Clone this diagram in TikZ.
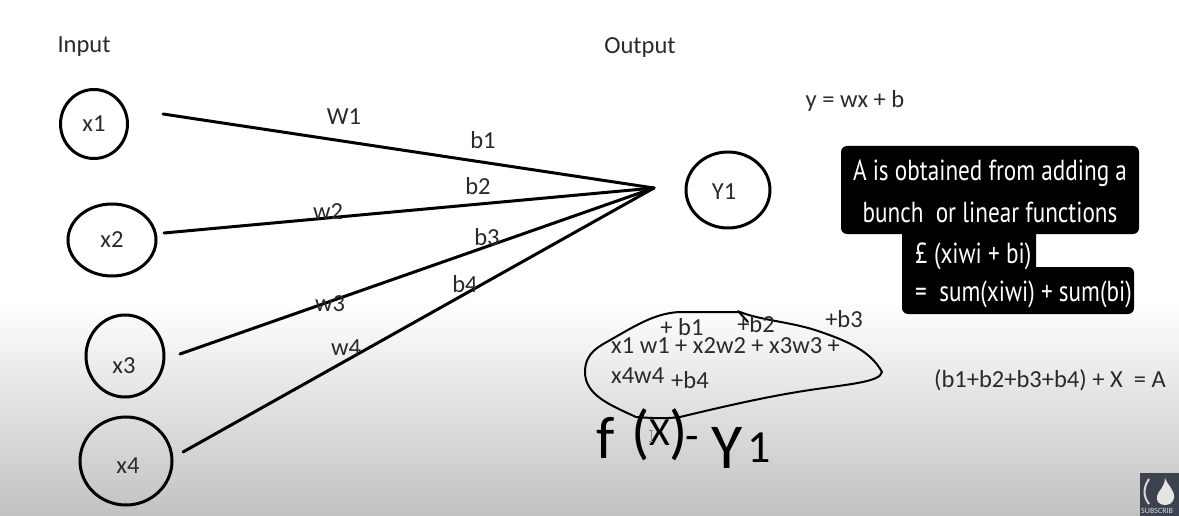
\documentclass[tikz,border=0pt]{standalone}
\usepackage{fontspec}
\setmainfont{Carlito}
\newfontfamily\condfont[FakeStretch=0.8]{PT Sans}
\usetikzlibrary{shapes.geometric}
\definecolor{ink}{HTML}{2A2A2A}
\definecolor{logo}{HTML}{3C4250}
\newcommand{\hw}[3]{\raisebox{#2pt}{\fontsize{#1}{#1}\selectfont #3}}
\tikzset{
  x=1pt,y=-1pt,
  neuron/.style={draw=black,line width=3pt,ellipse,inner sep=0pt},
  wire/.style={draw=black,line width=3pt,line cap=round},
  lbl/.style={inner sep=0pt,text=ink,font=\fontsize{24.5}{26}\selectfont},
  boxtxt/.style={inner sep=0pt,text=white,font=\condfont\fontsize{29}{31}\selectfont},
  hand/.style={draw=black,line width=2pt,line cap=round,line join=round}
}
\begin{document}
\begin{tikzpicture}
\useasboundingbox (0,0) rectangle (1179,516);
\fill[white] (0,0) rectangle (1179,301);
\shade[top color=white,bottom color=black!24] (0,300) rectangle (1179,516);
% neurons
\node[neuron,minimum width=67pt,minimum height=69pt,lbl] (x1) at (94,124) {x1};
\node[neuron,minimum width=88pt,minimum height=72pt,lbl] (x2) at (112,240) {x2};
\node[neuron,minimum width=78pt,minimum height=82pt] (x3) at (125,356) {};
\node[neuron,minimum width=92pt,minimum height=88pt] (x4) at (126,461) {};
\node[neuron,minimum width=84pt,minimum height=76pt] (y1) at (728,190) {};
\node[lbl] (tx3) at (124,366) {x3};
\node[lbl] (tx4) at (128,466) {x4};
\node[lbl] (ty1) at (724,192) {Y1};
% connectors
\coordinate (j) at (654,188);
\coordinate (s1) at (163,114);
\coordinate (s2) at (164,233);
\coordinate (s3) at (180,354);
\coordinate (s4) at (183,452);
\draw[wire] (s1) -- (j);
\draw[wire] (s2) -- (j);
\draw[wire] (s3) -- (j);
\draw[wire] (s4) -- (j);
% headings and labels
\node[lbl] (input) at (84,47) {Input};
\node[lbl] (output) at (640,48) {Output};
\node[lbl] (w1) at (344,117) {W1};
\node[lbl] (b1) at (483,140) {b1};
\node[lbl] (b2) at (478,186) {b2};
\node[lbl] (w2) at (328,212) {w2};
\node[lbl] (b3) at (487,237) {b3};
\node[lbl] (b4) at (465,284) {b4};
\node[lbl] (w3) at (330,304) {w3};
\node[lbl] (w4) at (346,348) {w4};
\node[lbl] (eq) at (855,101) {y = wx + b};
% black note
\fill[black,rounded corners=6pt] (841,146) rectangle (1139,234);
\fill[black,rounded corners=6pt] (902,228) rectangle (1036,300);
\fill[black,rounded corners=6pt] (902,267) rectangle (1134,314);
\node[boxtxt] (n1) at (990,173) {A is obtained from adding a};
\node[boxtxt] (n2) at (990,212) {bunch\ \ or linear functions};
\node[boxtxt,anchor=west] (n3) at (915,256) {£ (xiwi + bi)};
\node[boxtxt,anchor=west] (n4) at (915,294) {=\ \ sum(xiwi) + sum(bi)};
% blob
\draw[hand] (585,372) .. controls (585,352) and (600,346) .. (612,339)
  .. controls (635,326) and (655,313) .. (680,312) -- (740,312)
  .. controls (760,320) and (790,322) .. (815,330)
  .. controls (845,340) and (870,350) .. (882,372)
  .. controls (880,382) and (850,384) .. (810,390)
  .. controls (770,396) and (730,405) .. (680,417)
  .. controls (665,419) and (650,418) .. (636,417)
  .. controls (610,405) and (585,395) .. (585,372);
\draw[hand] (738,311) -- (748,322);
% blob text
\node[lbl] (pb1) at (682,327) {+ b1};
\node[lbl] (pb2) at (756,324) {+b2};
\node[lbl] (pb3) at (844,319) {+b3};
\node[lbl,anchor=west] (l1) at (611,346) {x1 w1 + x2w2 + x3w3 +};
\node[lbl,anchor=west] (l2) at (611,376) {x4w4};
\node[lbl,anchor=west] (l3) at (671,380) {+b4};
\node[lbl,anchor=west] (eqa) at (934,380) {(b1+b2+b3+b4) + X\ \ = A};
% handwritten formula
\node[inner sep=0pt,anchor=base west,text=black] (fx) at (596,458)
  {\hw{60}{0}{f}\kern17pt\hw{60}{6}{(}\kern0pt\hw{40}{13}{X}\kern-1pt\hw{60}{6}{)}\kern-2pt\hw{44}{8}{-}\kern12pt\hw{64}{-10}{Y}\kern5pt\hw{46}{-4}{1}};
% cursor
\draw[black!45,line width=1pt] (651,430) -- (651,441) (649,430) -- (653,430) (649,441) -- (653,441);
% logo
\fill[logo] (1140,473) rectangle (1179,516);
\draw[white!85!black,line width=2pt] (1149,479) .. controls (1143,488) and (1143,496) .. (1149,504);
\fill[white!90!black] (1165,478) .. controls (1168,486) and (1175,490) .. (1174,498)
  .. controls (1173,503) and (1169,505) .. (1165,505)
  .. controls (1159,505) and (1156,501) .. (1157,496)
  .. controls (1158,491) and (1165,487) .. (1165,478);
\node[inner sep=0pt,anchor=west,text=white!85!black,font=\fontsize{8}{9}\selectfont] (sub) at (1141,511) {SUBSCRIB};
\end{tikzpicture}
\end{document}
